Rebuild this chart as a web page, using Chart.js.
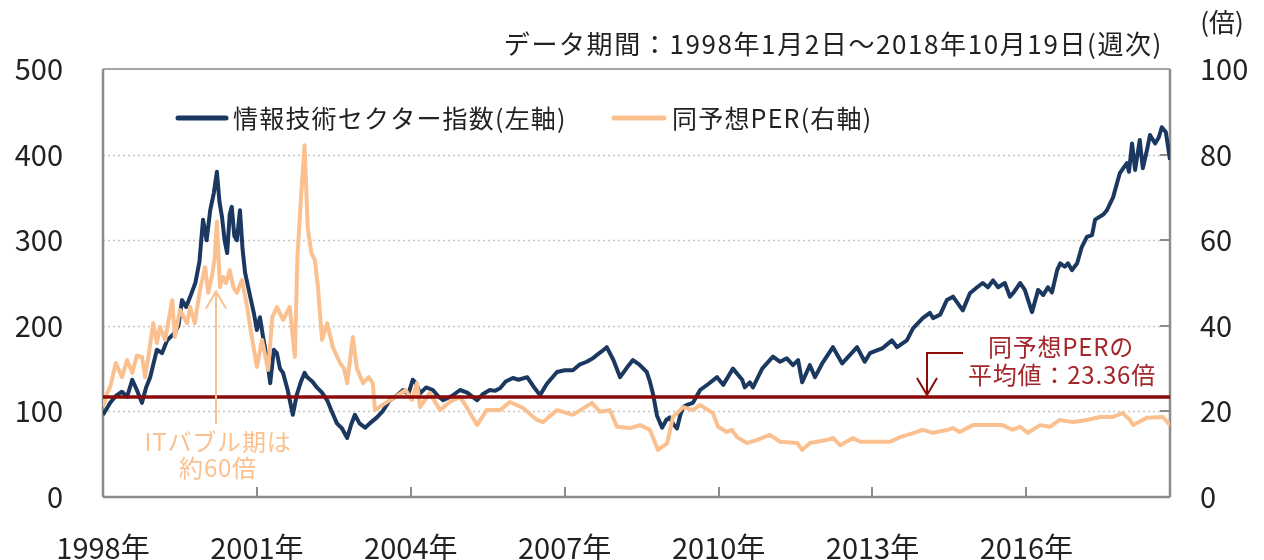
<!DOCTYPE html>
<html>
<head>
<meta charset="utf-8">
<script src="https://cdn.jsdelivr.net/npm/chart.js@4/dist/chart.umd.min.js"></script>
<style>
  html, body { margin: 0; padding: 0; background: #fff; }
  #wrap { width: 1264px; height: 560px; position: relative; }
</style>
</head>
<body>
<div id="wrap"><canvas id="chart"></canvas></div>
<script>
// weekly data (decimal year -> value)
const idxDates = [1998.00,1998.08,1998.14,1998.25,1998.37,1998.47,1998.57,1998.66,1998.76,1998.84,1998.92,
  1999.05,1999.15,1999.25,1999.40,1999.47,1999.54,1999.62,1999.70,1999.80,1999.88,1999.95,
  2000.02,2000.09,2000.16,2000.22,2000.27,2000.32,2000.37,2000.42,2000.47,2000.51,2000.56,2000.61,2000.67,2000.72,2000.77,2000.87,2000.94,
  2001.00,2001.06,2001.12,2001.20,2001.26,2001.33,2001.39,2001.45,2001.51,2001.60,2001.70,2001.78,2001.86,2001.93,2001.98,
  2002.08,2002.17,2002.27,2002.37,2002.46,2002.56,2002.66,2002.76,2002.84,2002.91,
  2003.00,2003.11,2003.20,2003.34,2003.45,2003.59,2003.72,2003.85,2003.95,
  2004.04,2004.10,2004.18,2004.30,2004.43,2004.53,2004.63,2004.80,2004.96,
  2005.10,2005.29,2005.40,2005.54,2005.64,2005.74,2005.85,2005.99,
  2006.10,2006.27,2006.38,2006.52,2006.65,2006.85,
  2007.00,2007.16,2007.30,2007.43,2007.55,2007.63,2007.72,2007.82,2007.95,
  2008.08,2008.20,2008.33,2008.45,2008.60,2008.66,2008.72,2008.80,2008.90,2008.98,
  2009.05,2009.12,2009.19,2009.25,2009.31,2009.40,2009.50,2009.64,2009.80,2009.97,
  2010.09,2010.28,2010.46,2010.51,2010.61,2010.67,2010.85,
  2011.06,2011.20,2011.33,2011.45,2011.55,2011.63,2011.78,2011.88,
  2012.02,2012.23,2012.41,2012.50,2012.70,2012.85,2012.95,
  2013.20,2013.38,2013.48,2013.67,2013.79,2013.98,
  2014.12,2014.18,2014.32,2014.45,2014.57,2014.76,2014.90,
  2015.04,2015.15,2015.25,2015.35,2015.45,2015.58,2015.68,2015.74,2015.88,2015.97,
  2016.11,2016.23,2016.33,2016.42,2016.50,2016.60,2016.66,2016.75,2016.81,2016.89,2016.99,
  2017.08,2017.18,2017.28,2017.34,2017.50,2017.57,2017.69,2017.82,2017.90,2017.96,
  2018.00,2018.06,2018.12,2018.21,2018.27,2018.35,2018.41,2018.51,2018.58,2018.64,2018.72,2018.80];
const idxValues = [96,104,110,118,123,117,137,125,110,128,140,
  172,168,183,192,200,230,222,234,250,275,324,
  300,335,355,380,345,327,300,285,330,339,305,300,335,290,262,234,215,
  195,210,187,160,133,172,168,150,145,125,96,120,135,145,140,
  135,128,122,113,100,86,80,69,85,96,
  86,81,86,93,100,113,118,125,120,
  137,133,121,128,125,118,113,118,125,
  122,113,120,125,124,127,135,139,
  137,140,130,119,132,146,
  148,148,155,158,162,166,170,175,160,
  140,150,160,155,146,135,121,95,81,90,
  93,85,80,95,105,108,110,125,132,140,
  131,150,137,128,134,128,150,
  164,158,162,154,160,134,154,140,
  156,175,156,162,175,158,168,
  174,183,175,183,197,209,
  215,209,213,230,234,218,238,
  245,250,245,253,245,250,234,238,250,242,
  216,242,236,245,239,265,273,269,273,265,273,
  292,304,306,324,330,335,350,378,385,390,
  380,413,382,417,384,405,423,413,420,432,426,394];

const perDates = [1998.00,1998.07,1998.14,1998.25,1998.37,1998.47,1998.57,1998.66,1998.76,1998.82,1998.90,1998.98,
  1999.05,1999.11,1999.21,1999.35,1999.40,1999.50,1999.64,1999.70,1999.79,1999.89,1999.99,
  2000.05,2000.13,2000.18,2000.22,2000.28,2000.34,2000.40,2000.47,2000.54,2000.61,2000.71,2000.81,2000.90,
  2001.00,2001.10,2001.22,2001.30,2001.39,2001.51,2001.64,2001.74,2001.79,2001.86,2001.93,2001.99,
  2002.06,2002.13,2002.19,2002.27,2002.37,2002.48,2002.62,2002.70,2002.76,2002.87,2002.95,
  2003.07,2003.18,2003.26,2003.30,2003.51,2003.70,2003.90,
  2004.02,2004.12,2004.18,2004.37,2004.57,2004.76,2004.96,
  2005.09,2005.29,2005.48,2005.74,2005.93,
  2006.19,2006.46,2006.58,2006.85,
  2007.16,2007.53,2007.69,2007.88,
  2008.02,2008.27,2008.47,2008.66,2008.82,
  2009.00,2009.11,2009.31,2009.50,2009.64,2009.89,2009.99,
  2010.16,2010.26,2010.36,2010.55,2010.74,
  2011.00,2011.20,2011.53,2011.63,2011.78,
  2012.11,2012.23,2012.37,2012.62,2012.76,
  2013.01,2013.34,2013.54,2013.87,2013.98,
  2014.18,2014.47,2014.57,2014.70,2014.96,
  2015.29,2015.54,2015.72,2015.88,
  2016.03,2016.27,2016.46,2016.65,2016.91,
  2017.18,2017.44,2017.69,2017.88,
  2018.02,2018.08,2018.35,2018.66,2018.80];
const perValues = [21,24,25.7,31.3,28,32,29,33,32.7,28,34,40.6,
  36,39.7,36.7,46,37.4,43.7,40.6,44.4,40.6,48.4,53.7,
  47.7,52,56,64.3,49,51.4,50,53,49,47.7,50.7,44.4,37.4,
  30.4,36.7,29.7,42,44.4,41.4,44.4,32.7,56,70,82.2,63,
  57,55.4,49,36.7,40.6,35,31.3,30,26.6,37.4,30,
  26.6,28,26.6,20.3,22,23.4,25,
  22.7,26.6,21,24.3,20.3,22.2,23.4,
  21,16.8,20.3,20.3,22.2,
  20.8,18,17.5,20.3,
  19.2,22,19.9,20.3,
  16.4,16.1,16.8,15.7,11,
  12.6,18.7,21,20.3,21.5,19.6,16.4,
  15.2,15.7,14,12.6,13.3,
  14.5,12.9,12.6,11,12.6,
  13.3,13.8,12.1,13.8,12.9,
  12.9,12.9,14,15.2,15.7,
  15,15.7,16.1,15.2,16.8,
  16.8,16.8,15.7,16.4,
  15,16.8,16.4,18,17.5,
  18,18.7,18.7,19.6,
  18,16.8,18.5,18.7,16.8];

const perMean = 23.36;
const yearTicks = [1998, 2001, 2004, 2007, 2010, 2013, 2016];
const leftTicks = [0, 100, 200, 300, 400, 500];
const rightTicks = [0, 20, 40, 60, 80, 100];
const xMin = 1998, xMax = 2018.8;

const NAVY = '#1b3860', ORANGE = '#fac08f', RED = '#8b0a0a', RED_TXT = '#a3262a', AXIS = '#8c8c8c';
const FONT = "'Noto Sans CJK JP', 'Noto Sans', sans-serif";
Chart.defaults.font.family = FONT;
Chart.defaults.color = '#222';

function seg(ctx, x1, y1, x2, y2) {
  ctx.beginPath(); ctx.moveTo(x1, y1); ctx.lineTo(x2, y2); ctx.stroke();
}

const decor = {
  id: 'decor',
  beforeDatasetsDraw(chart) {
    const { ctx, chartArea: a, scales: { x, y, y1 } } = chart;
    ctx.save();
    // dotted grid
    ctx.strokeStyle = '#c4c4c4'; ctx.lineWidth = 1.5; ctx.setLineDash([2, 3]);
    leftTicks.slice(1, -1).forEach(v => {
      const py = Math.round(y.getPixelForValue(v)) + 0.5;
      seg(ctx, a.left, py, a.right, py);
    });
    ctx.setLineDash([]);
    // frame
    ctx.strokeStyle = '#a6a6a6'; ctx.lineWidth = 2;
    seg(ctx, a.left, a.top, a.right, a.top);
    ctx.strokeStyle = AXIS; ctx.lineWidth = 2.5;
    seg(ctx, a.left, a.top, a.left, a.bottom);
    seg(ctx, a.left, a.bottom, a.right, a.bottom);
    seg(ctx, a.right, a.top, a.right, a.bottom);
    ctx.lineWidth = 2;
    yearTicks.slice(1).forEach(v => {
      const px = Math.round(x.getPixelForValue(v));
      seg(ctx, px, a.bottom, px, a.bottom - 10);
    });
    rightTicks.slice(1, -1).forEach(v => {
      const py = Math.round(y1.getPixelForValue(v));
      seg(ctx, a.right, py, a.right - 10, py);
    });
    ctx.restore();
  },
  afterDraw(chart) {
    const { ctx, scales: { x, y1 } } = chart;
    ctx.save();
    ctx.textBaseline = 'middle';

    // period note and unit
    ctx.fillStyle = '#222';
    ctx.font = `26px ${FONT}`;
    ctx.letterSpacing = '1.6px';
    ctx.textAlign = 'right';
    ctx.fillText('データ期間：1998年1月2日～2018年10月19日(週次)', 1163, 44);
    ctx.letterSpacing = '0px';
    ctx.textAlign = 'center';
    ctx.fillText('(倍)', 1222, 22);

    // legend
    ctx.lineWidth = 5; ctx.lineCap = 'round';
    ctx.strokeStyle = NAVY; seg(ctx, 178, 118, 226, 118);
    ctx.strokeStyle = ORANGE; seg(ctx, 614, 118, 664, 118);
    ctx.lineCap = 'butt';
    ctx.font = `25px ${FONT}`;
    ctx.letterSpacing = '1.2px';
    ctx.textAlign = 'left';
    ctx.fillText('情報技術セクター指数(左軸)', 233, 118);
    ctx.fillText('同予想PER(右軸)', 672, 118);

    // IT bubble note
    const bx = Math.round(x.getPixelForValue(2000.2));
    const tipY = y1.getPixelForValue(48);
    ctx.strokeStyle = ORANGE; ctx.lineWidth = 2;
    seg(ctx, bx, tipY, bx, 424);
    ctx.beginPath();
    ctx.moveTo(bx - 10, tipY + 17); ctx.lineTo(bx, tipY); ctx.lineTo(bx + 10, tipY + 17);
    ctx.stroke();
    ctx.fillStyle = ORANGE; ctx.font = `24px ${FONT}`; ctx.textAlign = 'center';
    ctx.letterSpacing = '0.8px';
    ctx.fillText('ITバブル期は', bx + 2, 442);
    ctx.fillText('約60倍', bx + 2, 468);

    // mean note
    const mx = Math.round(x.getPixelForValue(2014.07));
    const my = y1.getPixelForValue(perMean);
    ctx.strokeStyle = RED; ctx.lineWidth = 2;
    ctx.beginPath();
    ctx.moveTo(mx + 36, 353); ctx.lineTo(mx, 353); ctx.lineTo(mx, my - 2);
    ctx.stroke();
    ctx.beginPath();
    ctx.moveTo(mx - 10, my - 19); ctx.lineTo(mx, my - 2); ctx.lineTo(mx + 10, my - 19);
    ctx.stroke();
    ctx.fillStyle = RED_TXT;
    ctx.fillText('同予想PERの', 1061, 347);
    ctx.fillText('平均値：23.36倍', 1062, 375);
    ctx.restore();
  }
};

new Chart(document.getElementById('chart'), {
  type: 'line',
  data: {
    datasets: [
      { label: '平均', data: [{ x: xMin, y: perMean }, { x: xMax, y: perMean }], yAxisID: 'y1',
        borderColor: RED, borderWidth: 3.5, order: 0 },
      { label: '同予想PER(右軸)', data: perDates.map((d, i) => ({ x: d, y: perValues[i] })), yAxisID: 'y1',
        borderColor: ORANGE, borderWidth: 4, order: 1 },
      { label: '情報技術セクター指数(左軸)', data: idxDates.map((d, i) => ({ x: d, y: idxValues[i] })), yAxisID: 'y',
        borderColor: NAVY, borderWidth: 4, order: 2 }
    ]
  },
  options: {
    responsive: true,
    maintainAspectRatio: false,
    animation: false,
    elements: { point: { radius: 0 }, line: { tension: 0, borderJoinStyle: 'round' } },
    layout: { padding: { top: 69, left: 0, right: 0, bottom: 0 } },
    plugins: { legend: { display: false }, tooltip: { enabled: false } },
    scales: {
      x: {
        type: 'linear', min: xMin, max: xMax,
        afterBuildTicks: s => { s.ticks = yearTicks.map(v => ({ value: v })); },
        afterFit: s => { s.height = 63; },
        grid: { display: false, drawTicks: false }, border: { display: false },
        ticks: { font: { size: 29 }, color: '#222', padding: 34, maxRotation: 0, autoSkip: false,
                 callback: v => v + '年' }
      },
      y: {
        position: 'left', min: 0, max: 500,
        afterBuildTicks: s => { s.ticks = leftTicks.map(v => ({ value: v })); },
        afterFit: s => { s.width = 103; },
        grid: { display: false, drawTicks: false }, border: { display: false },
        ticks: { font: { size: 29 }, color: '#222', padding: 40 }
      },
      y1: {
        position: 'right', min: 0, max: 100,
        afterBuildTicks: s => { s.ticks = rightTicks.map(v => ({ value: v })); },
        afterFit: s => { s.width = 94; },
        grid: { display: false, drawTicks: false }, border: { display: false },
        ticks: { font: { size: 29 }, color: '#222', padding: 30 }
      }
    }
  },
  plugins: [decor]
});
</script>
</body>
</html>
